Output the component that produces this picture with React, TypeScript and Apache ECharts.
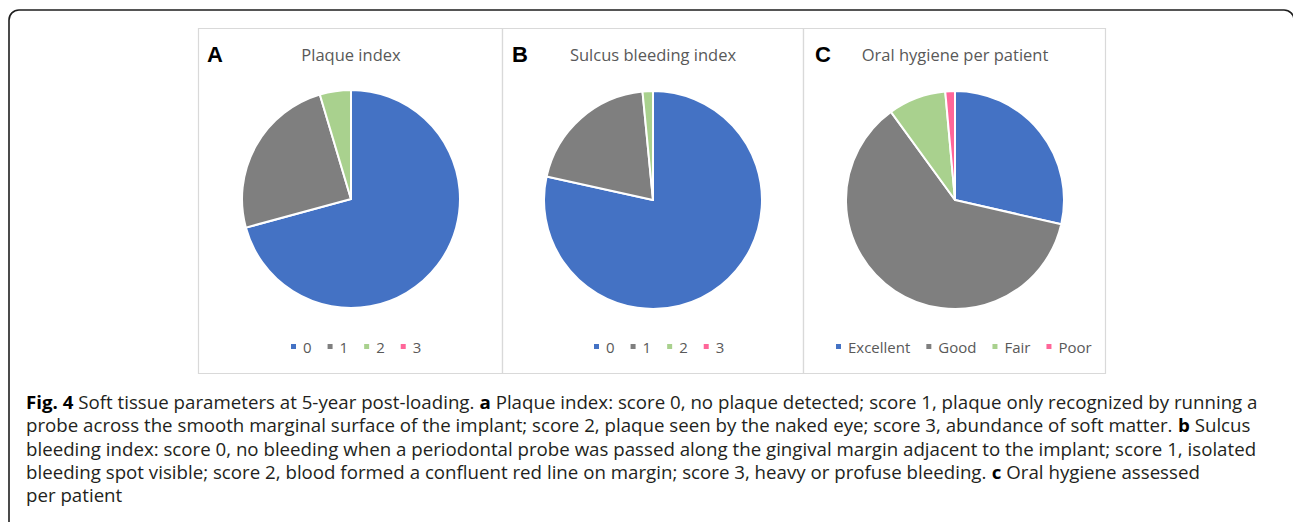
import React, { useEffect, useRef } from 'react';
import * as echarts from 'echarts';

// ---- data ----
const scoreCategories = ['0', '1', '2', '3'];
const plaqueValues = [46, 16, 3, 0];
const bleedingValues = [51, 13, 1, 0];
const hygieneCategories = ['Excellent', 'Good', 'Fair', 'Poor'];
const hygieneValues = [20, 43, 6, 1];
const panelTitles = ['Plaque index', 'Sulcus bleeding index', 'Oral hygiene per patient'];
const panelLetters = ['A', 'B', 'C'];
const captionLines = [
  '{b|Fig. 4} Soft tissue parameters at 5-year post-loading. {b|a} Plaque index: score 0, no plaque detected; score 1, plaque only recognized by running a',
  'probe across the smooth marginal surface of the implant; score 2, plaque seen by the naked eye; score 3, abundance of soft matter. {b|b} Sulcus',
  'bleeding index: score 0, no bleeding when a periodontal probe was passed along the gingival margin adjacent to the implant; score 1, isolated',
  'bleeding spot visible; score 2, blood formed a confluent red line on margin; score 3, heavy or profuse bleeding. {b|c} Oral hygiene assessed',
  'per patient',
];

// ---- styling / layout ----
const sliceColors = ['#4472C4', '#7F7F7F', '#A9D18E', '#FF6699'];
const panels = [
  { x: 198, w: 304, cx: 351, cy: 199, legendLeft: 289, letterX: 207 },
  { x: 502, w: 301, cx: 653, cy: 200, legendLeft: 592, letterX: 512 },
  { x: 803, w: 302, cx: 955, cy: 200, legendLeft: 834, letterX: 815 },
];
const panelTop = 28;
const panelBottom = 373;
const pieRadius = 109;
const captionFont = '"Open Sans", "Noto Sans", sans-serif';
const uiFont = '"Open Sans", "Noto Sans", sans-serif';
const captionSize = 18;
const captionTargetWidth = 1232;

function measureRichLine(line: string, size: number): number {
  try {
    const c = document.createElement('canvas');
    const ctx = c.getContext('2d');
    if (!ctx) return captionTargetWidth;
    let total = 0;
    const re = /\{b\|([^}]*)\}/g;
    let last = 0;
    let m: RegExpExecArray | null;
    while ((m = re.exec(line)) !== null) {
      ctx.font = `${size}px "Open Sans"`;
      total += ctx.measureText(line.slice(last, m.index)).width;
      ctx.font = `bold ${size}px "Open Sans"`;
      total += ctx.measureText(m[1]).width;
      last = m.index + m[0].length;
    }
    ctx.font = `${size}px "Open Sans"`;
    total += ctx.measureText(line.slice(last)).width;
    return total;
  } catch (e) {
    return captionTargetWidth;
  }
}

export default function App() {
  const ref = useRef<HTMLDivElement>(null);
  useEffect(() => {
    if (!ref.current) return;
    const chart = echarts.init(ref.current, null, { renderer: 'svg' });
    const w0 = measureRichLine(captionLines[0], captionSize);
    const capScale = Math.max(0.7, Math.min(1.2, captionTargetWidth / w0));

    const seriesData = [
      { cats: scoreCategories, vals: plaqueValues },
      { cats: scoreCategories, vals: bleedingValues },
      { cats: hygieneCategories, vals: hygieneValues },
    ];

    const series = seriesData.map((d, i) => ({
      type: 'pie',
      center: [panels[i].cx, panels[i].cy],
      radius: pieRadius,
      startAngle: 90,
      clockwise: true,
      label: { show: false },
      labelLine: { show: false },
      emphasis: { disabled: true },
      stillShowZeroSum: true,
      itemStyle: { borderColor: '#ffffff', borderWidth: 2 },
      data: d.cats.map((c, j) => ({ name: c, value: d.vals[j], itemStyle: { color: sliceColors[j] } })),
    }));

    const legend = seriesData.map((d, i) => ({
      data: d.cats,
      left: panels[i].legendLeft,
      top: 339,
      padding: 0,
      icon: 'rect',
      itemWidth: 7,
      itemHeight: 7,
      itemGap: 14,
      selectedMode: false,
      textStyle: { fontSize: 15, color: '#595959', fontFamily: uiFont, padding: [0, 0, 0, 1] },
    }));

    const graphic: any[] = [
      {
        type: 'rect',
        shape: { x: 9, y: 10, width: 1285, height: 620, r: 10 },
        style: { fill: 'none', stroke: '#1e1e1e', lineWidth: 1.6 },
        silent: true,
      },
    ];
    panels.forEach((p, i) => {
      graphic.push({
        type: 'rect',
        shape: { x: p.x + 0.5, y: panelTop + 0.5, width: p.w, height: panelBottom - panelTop },
        style: { fill: 'none', stroke: '#D9D9D9', lineWidth: 1.2 },
        silent: true,
        z: -1,
      });
      graphic.push({
        type: 'text',
        x: p.letterX,
        y: 54,
        style: {
          text: panelLetters[i],
          font: 'bold 22px "Liberation Sans", Arial, sans-serif',
          fill: '#000000',
          align: 'left',
          verticalAlign: 'middle',
        },
        silent: true,
      });
      graphic.push({
        type: 'text',
        x: p.cx,
        y: 54,
        style: {
          text: panelTitles[i],
          font: `16.5px ${uiFont}`,
          fill: '#595959',
          align: 'center',
          verticalAlign: 'middle',
        },
        silent: true,
      });
    });
    const capY = [401.5, 424.9, 448.3, 471.7, 495.1];
    captionLines.forEach((line, i) => {
      graphic.push({
        type: 'text',
        x: 26,
        y: capY[i],
        scaleX: capScale,
        style: {
          text: line,
          fontFamily: captionFont,
          fontSize: captionSize,
          fill: '#231F20',
          align: 'left',
          verticalAlign: 'middle',
          rich: {
            b: { fontFamily: captionFont, fontSize: captionSize, fontWeight: 'bold', fill: '#000000' },
          },
        },
        silent: true,
      });
    });

    chart.setOption({
      animation: false,
      backgroundColor: '#ffffff',
      legend,
      series,
      graphic,
    });
    return () => chart.dispose();
  }, []);
  return (
    <div
      ref={ref}
      style={{ position: 'fixed', left: 0, top: 0, width: 1293, height: 522, background: '#fff' }}
    />
  );
}
